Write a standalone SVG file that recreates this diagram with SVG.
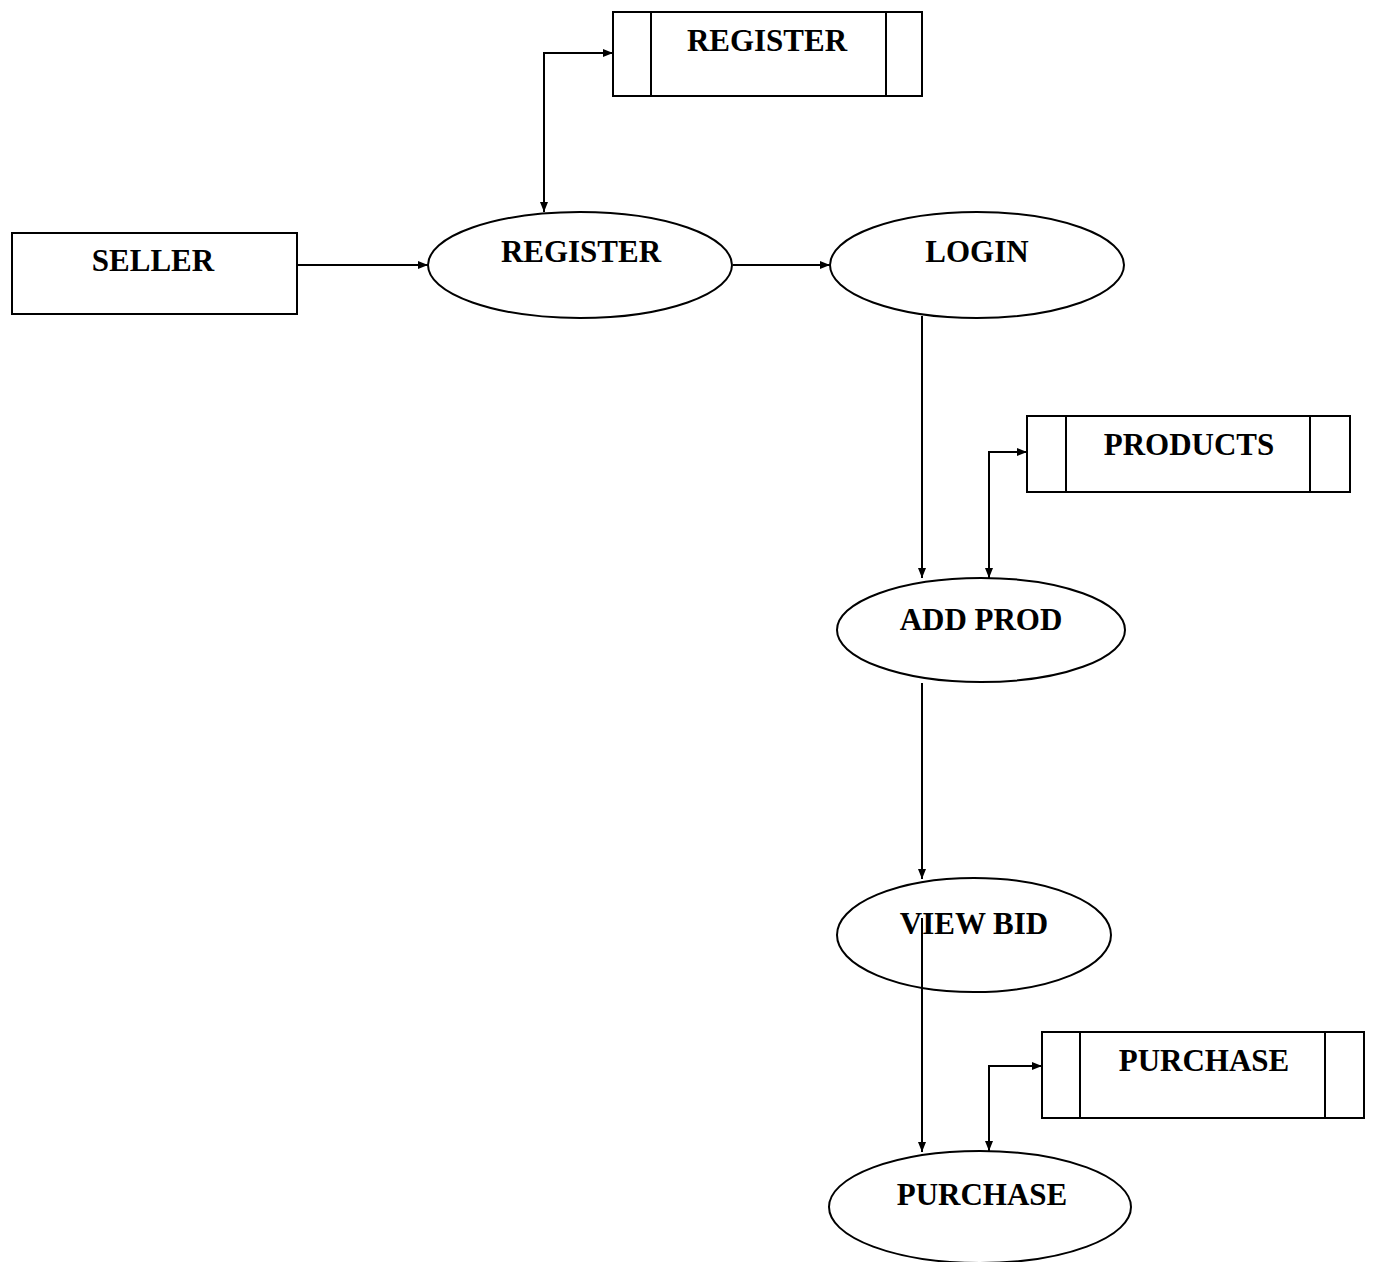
<svg xmlns="http://www.w3.org/2000/svg" width="1374" height="1262" viewBox="0 0 1374 1262">
  <style>
    .shape { fill: #ffffff; stroke: #000000; stroke-width: 2; }
    .label { font-family: "Liberation Serif", "Times New Roman", serif; font-weight: bold; font-size: 31px; fill: #000000; text-anchor: middle; }
    .flow { fill: none; stroke: #000000; stroke-width: 2; }
  </style>
  <defs>
    <marker id="arrow" viewBox="0 0 10 10" refX="10" refY="5" markerWidth="11" markerHeight="10" markerUnits="userSpaceOnUse" orient="auto-start-reverse">
      <path d="M0,1 L10,5 L0,9 Z" fill="#000000"/>
    </marker>
  </defs>

  <rect width="1374" height="1262" fill="#ffffff"/>

  <!-- external entity -->
  <g id="seller">
    <rect class="shape" x="12" y="233" width="285" height="81"/>
    <text class="label" x="153" y="271">SELLER</text>
  </g>

  <!-- processes -->
  <g id="register-process">
    <ellipse class="shape" cx="580" cy="265" rx="152" ry="53"/>
    <text class="label" x="581" y="262">REGISTER</text>
  </g>
  <g id="login-process">
    <ellipse class="shape" cx="977" cy="265" rx="147" ry="53"/>
    <text class="label" x="977" y="262">LOGIN</text>
  </g>
  <g id="add-prod-process">
    <ellipse class="shape" cx="981" cy="630" rx="144" ry="52"/>
    <text class="label" x="981" y="630">ADD PROD</text>
  </g>
  <g id="view-bid-process">
    <ellipse class="shape" cx="974" cy="935" rx="137" ry="57"/>
    <text class="label" x="974" y="934">VIEW BID</text>
  </g>
  <g id="purchase-process">
    <ellipse class="shape" cx="980" cy="1207" rx="151" ry="56"/>
    <text class="label" x="982" y="1205">PURCHASE</text>
  </g>

  <!-- data stores -->
  <g id="register-store">
    <rect class="shape" x="613" y="12" width="309" height="84"/>
    <line class="flow" x1="651" y1="12" x2="651" y2="96"/>
    <line class="flow" x1="886" y1="12" x2="886" y2="96"/>
    <text class="label" x="767" y="51">REGISTER</text>
  </g>
  <g id="products-store">
    <rect class="shape" x="1027" y="416" width="323" height="76"/>
    <line class="flow" x1="1066" y1="416" x2="1066" y2="492"/>
    <line class="flow" x1="1310" y1="416" x2="1310" y2="492"/>
    <text class="label" x="1189" y="455">PRODUCTS</text>
  </g>
  <g id="purchase-store">
    <rect class="shape" x="1042" y="1032" width="322" height="86"/>
    <line class="flow" x1="1080" y1="1032" x2="1080" y2="1118"/>
    <line class="flow" x1="1325" y1="1032" x2="1325" y2="1118"/>
    <text class="label" x="1204" y="1071">PURCHASE</text>
  </g>

  <!-- connectors, drawn over the nodes -->
  <g id="connectors">
    <path class="flow" d="M297,265 L428,265" marker-end="url(#arrow)"/>
    <path class="flow" d="M733,265 L830,265" marker-end="url(#arrow)"/>
    <path class="flow" d="M544,212 L544,53 L613,53" marker-start="url(#arrow)" marker-end="url(#arrow)"/>
    <path class="flow" d="M922,316 L922,578" marker-end="url(#arrow)"/>
    <path class="flow" d="M989,578 L989,452 L1027,452" marker-start="url(#arrow)" marker-end="url(#arrow)"/>
    <path class="flow" d="M922,683 L922,879" marker-end="url(#arrow)"/>
    <path class="flow" d="M922,918 L922,1152" marker-end="url(#arrow)"/>
    <path class="flow" d="M989,1151 L989,1066 L1042,1066" marker-start="url(#arrow)" marker-end="url(#arrow)"/>
  </g>
</svg>
